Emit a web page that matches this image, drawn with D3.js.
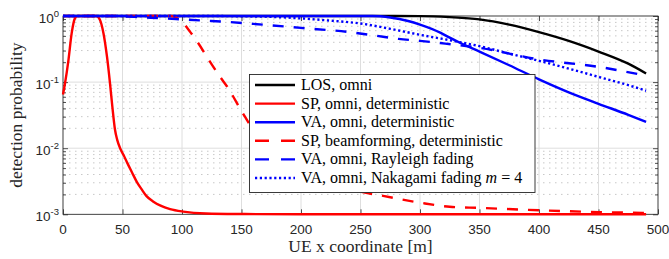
<!DOCTYPE html>
<html>
<head>
<meta charset="utf-8">
<script src="https://cdn.jsdelivr.net/npm/d3@7"></script>
<style>
	html, body { margin: 0; padding: 0; background: #fff; }
	svg { display: block; }
</style>
</head>
<body>
<svg id="chart" width="669" height="259"></svg>
<script>
// values
var xTicks = [0, 50, 100, 150, 200, 250, 300, 350, 400, 450, 500];
var yDecades = [-3, -2, -1, 0];

var losX = [0, 250, 300, 325, 350, 375, 400, 425, 450, 475, 490];
var losP = [1, 1, 0.995, 0.96, 0.89, 0.74, 0.57, 0.42, 0.29, 0.19, 0.135];

var spOmniX = [0, 1.7, 4.5, 7.3, 10, 12, 15, 28, 31, 34, 37, 39.5, 41.5, 43.7, 45.5, 48, 51, 54, 58, 62, 66, 70, 76, 82, 90, 101, 120, 150, 200, 490];
var spOmniP = [0.065, 0.096, 0.21, 0.55, 0.92, 1, 1, 1, 0.88, 0.55, 0.24, 0.096, 0.042, 0.019, 0.0135, 0.01, 0.0078, 0.006, 0.0043, 0.0031, 0.0024, 0.0019, 0.00155, 0.00135, 0.0012, 0.0011, 0.00103, 0.00101, 0.001, 0.001];

var vaOmniX = [0, 260, 275, 290, 300, 317, 325, 334, 350, 375, 400, 425, 450, 475, 490];
var vaOmniP = [1, 1, 0.95, 0.84, 0.74, 0.56, 0.47, 0.39, 0.29, 0.18, 0.11, 0.07, 0.047, 0.032, 0.025];

var spBeamX = [0, 90, 95, 100, 107, 114, 121, 132, 138, 151, 165, 180, 200, 225, 250, 269, 300, 325, 350, 400, 450, 490];
var spBeamP = [1, 1, 0.95, 0.82, 0.57, 0.38, 0.24, 0.12, 0.085, 0.034, 0.014, 0.0075, 0.0045, 0.003, 0.0022, 0.0019, 0.0015, 0.0013, 0.00125, 0.00115, 0.00108, 0.00105];

var vaRayX = [0, 40, 60, 80, 100, 120, 140, 160, 200, 241, 264, 282, 300, 317, 350, 400, 450, 490];
var vaRayP = [1, 1, 0.97, 0.93, 0.89, 0.85, 0.81, 0.76, 0.66, 0.57, 0.5, 0.45, 0.42, 0.39, 0.33, 0.22, 0.17, 0.125];

var vaNakX = [0, 120, 150, 175, 200, 225, 250, 275, 300, 325, 350, 375, 400, 425, 450, 475, 490];
var vaNakP = [1, 1, 0.99, 0.97, 0.92, 0.85, 0.77, 0.64, 0.52, 0.43, 0.35, 0.27, 0.21, 0.16, 0.12, 0.09, 0.074];

var series = [
	{ name: 'LOS, omni', xs: losX, ys: losP, color: '#000000', dash: null },
	{ name: 'SP, omni, deterministic', xs: spOmniX, ys: spOmniP, color: '#ff0000', dash: null },
	{ name: 'VA, omni, deterministic', xs: vaOmniX, ys: vaOmniP, color: '#0000ff', dash: null },
	{ name: 'SP, beamforming, deterministic', xs: spBeamX, ys: spBeamP, color: '#ff0000', dash: 'dash' },
	{ name: 'VA, omni, Rayleigh fading', xs: vaRayX, ys: vaRayP, color: '#0000ff', dash: 'dash' },
	{ name: 'VA, omni, Nakagami fading', xs: vaNakX, ys: vaNakP, color: '#0000ff', dash: 'dot', math: true }
];

(function (d3) {

	var svg = d3.select('#chart');
	var plotL = 63, plotR = 658, plotT = 16, plotB = 214.3;
	var axisColor = '#262626';

	var x = d3.scaleLinear().domain([0, 500]).range([plotL, plotR]);
	var y = d3.scaleLog().domain([1e-3, 1]).range([plotB, plotT]);

	var minorVals = [];
	yDecades.slice(0, 3).forEach(function(d) {
		for (var k = 2; k <= 9; k++) minorVals.push(k * Math.pow(10, d));
	});
	var majorVals = yDecades.map(function(d) { return Math.pow(10, d); });

	// grid
	var grid = svg.append('g');
	grid.selectAll('line.minor').data(minorVals).enter().append('line')
		.attr('x1', plotL).attr('x2', plotR)
		.attr('y1', function(d) { return y(d); }).attr('y2', function(d) { return y(d); })
		.attr('stroke', '#c8c8c8').attr('stroke-width', 1)
		.attr('stroke-dasharray', '1.5,4.5');
	grid.selectAll('line.hmaj').data(majorVals).enter().append('line')
		.attr('x1', plotL).attr('x2', plotR)
		.attr('y1', function(d) { return y(d); }).attr('y2', function(d) { return y(d); })
		.attr('stroke', '#dedede').attr('stroke-width', 1);
	grid.selectAll('line.vmaj').data(xTicks).enter().append('line')
		.attr('y1', plotT).attr('y2', plotB)
		.attr('x1', function(d) { return x(d); }).attr('x2', function(d) { return x(d); })
		.attr('stroke', '#dedede').attr('stroke-width', 1);

	// axes: box with inward ticks on all four sides
	var fmtNone = function() { return ''; };
	svg.append('g').attr('transform', 'translate(0,' + plotB + ')')
		.call(d3.axisTop(x).tickValues(xTicks).tickSize(5).tickFormat(fmtNone));
	svg.append('g').attr('transform', 'translate(0,' + plotT + ')')
		.call(d3.axisBottom(x).tickValues(xTicks).tickSize(5).tickFormat(fmtNone));
	svg.append('g').attr('transform', 'translate(' + plotL + ',0)')
		.call(d3.axisRight(y).tickValues(majorVals).tickSize(5).tickFormat(fmtNone));
	svg.append('g').attr('transform', 'translate(' + plotR + ',0)')
		.call(d3.axisLeft(y).tickValues(majorVals).tickSize(5).tickFormat(fmtNone));
	svg.append('g').attr('transform', 'translate(' + plotL + ',0)')
		.call(d3.axisRight(y).tickValues(minorVals).tickSize(3).tickFormat(fmtNone));
	svg.append('g').attr('transform', 'translate(' + plotR + ',0)')
		.call(d3.axisLeft(y).tickValues(minorVals).tickSize(3).tickFormat(fmtNone));
	svg.selectAll('.domain').remove();
	svg.selectAll('.tick text').remove();
	svg.selectAll('.tick line').attr('stroke', axisColor).attr('stroke-width', 0.8);

	svg.append('rect')
		.attr('x', plotL).attr('y', plotT)
		.attr('width', plotR - plotL).attr('height', plotB - plotT)
		.attr('fill', 'none').attr('stroke', axisColor).attr('stroke-width', 0.8);

	// tick labels
	svg.append('g').selectAll('text').data(xTicks).enter().append('text')
		.attr('x', function(d) { return x(d); }).attr('y', 234)
		.attr('text-anchor', 'middle')
		.attr('font-family', 'Liberation Sans, Arial, sans-serif').attr('font-size', 13.5)
		.attr('fill', axisColor)
		.text(function(d) { return d; });

	var yl = svg.append('g').selectAll('text').data(yDecades).enter().append('text')
		.attr('x', 59).attr('y', function(d) { return y(Math.pow(10, d)) + 7; })
		.attr('text-anchor', 'end')
		.attr('font-family', 'Liberation Sans, Arial, sans-serif').attr('font-size', 13.5)
		.attr('fill', axisColor);
	yl.append('tspan').text('10');
	yl.append('tspan').attr('dy', -6.5).attr('font-size', 9.5)
		.text(function(d) { return d; });

	// axis labels
	svg.append('text')
		.attr('x', (plotL + plotR) / 2).attr('y', 252)
		.attr('text-anchor', 'middle')
		.attr('font-family', 'Liberation Serif, Times New Roman, serif').attr('font-size', 17.5)
		.attr('fill', axisColor)
		.text('UE x coordinate [m]');
	svg.append('text')
		.attr('transform', 'translate(22,' + ((plotT + plotB) / 2) + ') rotate(-90)')
		.attr('text-anchor', 'middle')
		.attr('font-family', 'Liberation Serif, Times New Roman, serif').attr('font-size', 17.5)
		.attr('fill', axisColor)
		.text('detection probability');

	// curves
	var line = d3.line()
		.x(function(d) { return x(d[0]); })
		.y(function(d) { return y(d[1]); })
		.curve(d3.curveMonotoneX);

	function dashFor(s) {
		if (s.dash === 'dash') return '11,10';
		if (s.dash === 'dot') return '2.2,2.6';
		return null;
	}

	series.forEach(function(s) {
		svg.append('path')
			.datum(d3.zip(s.xs, s.ys))
			.attr('d', line)
			.attr('fill', 'none')
			.attr('stroke', s.color)
			.attr('stroke-width', 2.4)
			.attr('stroke-dasharray', dashFor(s));
	});

	// legend
	var lg = svg.append('g');
	lg.append('rect')
		.attr('x', 249.5).attr('y', 74.5).attr('width', 285.5).attr('height', 118)
		.attr('fill', '#fff').attr('stroke', axisColor).attr('stroke-width', 0.9);

	var rowY = d3.scaleLinear().domain([0, 5]).range([85, 178]);
	series.forEach(function(s, i) {
		var yy = rowY(i);
		lg.append('line')
			.attr('x1', 255).attr('x2', 295).attr('y1', yy).attr('y2', yy)
			.attr('stroke', s.color).attr('stroke-width', 2.4)
			.attr('stroke-dasharray', s.dash === 'dash' ? '14,12' : dashFor(s));
		var t = lg.append('text')
			.attr('x', 301).attr('y', yy + 5)
			.attr('font-family', 'Liberation Serif, Times New Roman, serif').attr('font-size', 16)
			.attr('fill', '#000');
		t.append('tspan').text(s.name);
		if (s.math) {
			t.append('tspan').text(' ');
			t.append('tspan').attr('font-style', 'italic').text('m');
			t.append('tspan').text(' = 4');
		}
	});

}(d3));
</script>
</body>
</html>
